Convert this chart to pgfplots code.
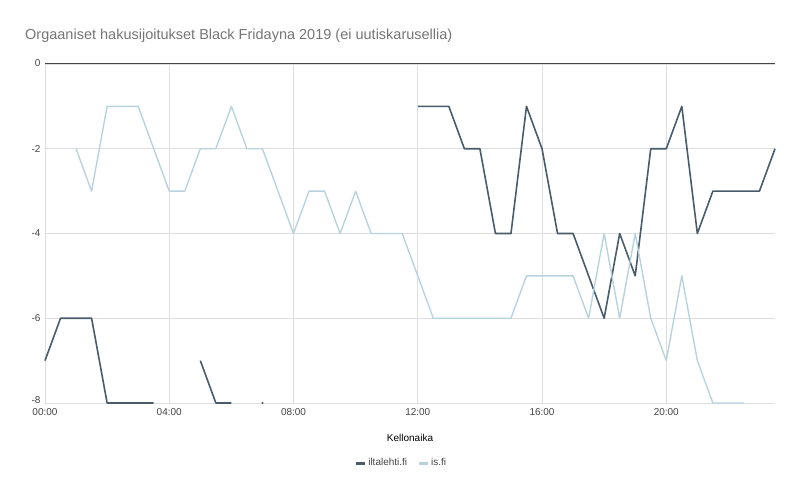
\documentclass[border=0pt]{standalone}
\usepackage{fontspec}
\setmainfont{Liberation Sans}
\usepackage{pgfplots}
\usepackage{pgfplotstable}
\pgfplotsset{compat=1.18}

\definecolor{ilta}{HTML}{4A5C6A}
\definecolor{isfi}{HTML}{B9D3DE}
\definecolor{gridc}{HTML}{DEDEDE}
\definecolor{titlec}{HTML}{757575}
\definecolor{tickc}{HTML}{444444}

% hours after midnight, position in search results (negative)
\pgfplotstableread{
t    pos
0    -7
0.5  -6
1    -6
1.5  -6
2    -8
2.5  -8
3    -8
3.5  -8
4    nan
5    -7
5.5  -8
6    -8
6.5  nan
12   -1
12.5 -1
13   -1
13.5 -2
14   -2
14.5 -4
15   -4
15.5 -1
16   -2
16.5 -4
17   -4
17.5 -5
18   -6
18.5 -4
19   -5
19.5 -2
20   -2
20.5 -1
21   -4
21.5 -3
22   -3
22.5 -3
23   -3
23.5 -2
}\iltalehti

\pgfplotstableread{
t    pos
1    -2
1.5  -3
2    -1
2.5  -1
3    -1
3.5  -2
4    -3
4.5  -3
5    -2
5.5  -2
6    -1
6.5  -2
7    -2
7.5  -3
8    -4
8.5  -3
9    -3
9.5  -4
10   -3
10.5 -4
11   -4
11.5 -4
12   -5
12.5 -6
13   -6
13.5 -6
14   -6
14.5 -6
15   -6
15.5 -5
16   -5
16.5 -5
17   -5
17.5 -6
18   -4
18.5 -6
19   -4
19.5 -6
20   -7
20.5 -5
21   -7
21.5 -8
22   -8
22.5 -8
}\isfi

\begin{document}
\begin{tikzpicture}
\path[use as bounding box] (0,0) rectangle (800bp,494bp);
\node[anchor=base west, text=titlec, font=\fontsize{14.5bp}{17bp}\selectfont, inner sep=0pt]
  at (25bp,454bp) {Orgaaniset hakusijoitukset Black Fridayna 2019 (ei uutiskarusellia)};
\begin{axis}[
    at={(45bp,91bp)}, anchor=south west,
    scale only axis,
    width=730bp, height=339bp,
    xmin=0, xmax=23.5,
    ymin=-8, ymax=0,
    clip=false,
    axis line style={draw=none},
    xtick={0,4,8,12,16,20},
    xticklabels={00:00,04:00,08:00,12:00,16:00,20:00},
    ytick={-8,-6,-4,-2,0},
    yticklabels={\raisebox{6bp}{-8},-6,-4,-2,\raisebox{1.5bp}{0}},
    major tick length=0pt,
    grid=major,
    grid style={color=gridc, line width=0.8bp},
    ticklabel style={font=\fontsize{10bp}{12bp}\selectfont, text=tickc},
    xticklabel style={yshift=-2bp},
    yticklabel style={xshift=-1bp},
    xlabel={Kellonaika},
    xlabel style={at={(axis description cs:0.5,-0.113)}, anchor=base,
                  font=\fontsize{10bp}{12bp}\selectfont, text=black},
    unbounded coords=jump,
    legend columns=2,
    legend style={at={(0.488,-0.177)}, anchor=center, draw=none,
                  font=\fontsize{10bp}{12bp}\selectfont, text=tickc,
                  /tikz/every even column/.append style={column sep=8bp}},
    legend image code/.code={\draw[line width=3bp,#1] (-3bp,0bp) -- (6bp,0bp);},
]
\draw[color=tickc, line width=1bp] (axis cs:0,0) -- (axis cs:23.5,0);
\addplot[color=ilta, line width=1.6bp, line join=round] table[x=t, y=pos] {\iltalehti};
\addplot[color=isfi, line width=1.4bp, line join=round] table[x=t, y=pos] {\isfi};
\addplot[forget plot, only marks, mark=*, mark size=0.9bp, color=ilta] coordinates {(7,-8)};
\legend{iltalehti.fi, is.fi}
\end{axis}
\end{tikzpicture}
\end{document}
